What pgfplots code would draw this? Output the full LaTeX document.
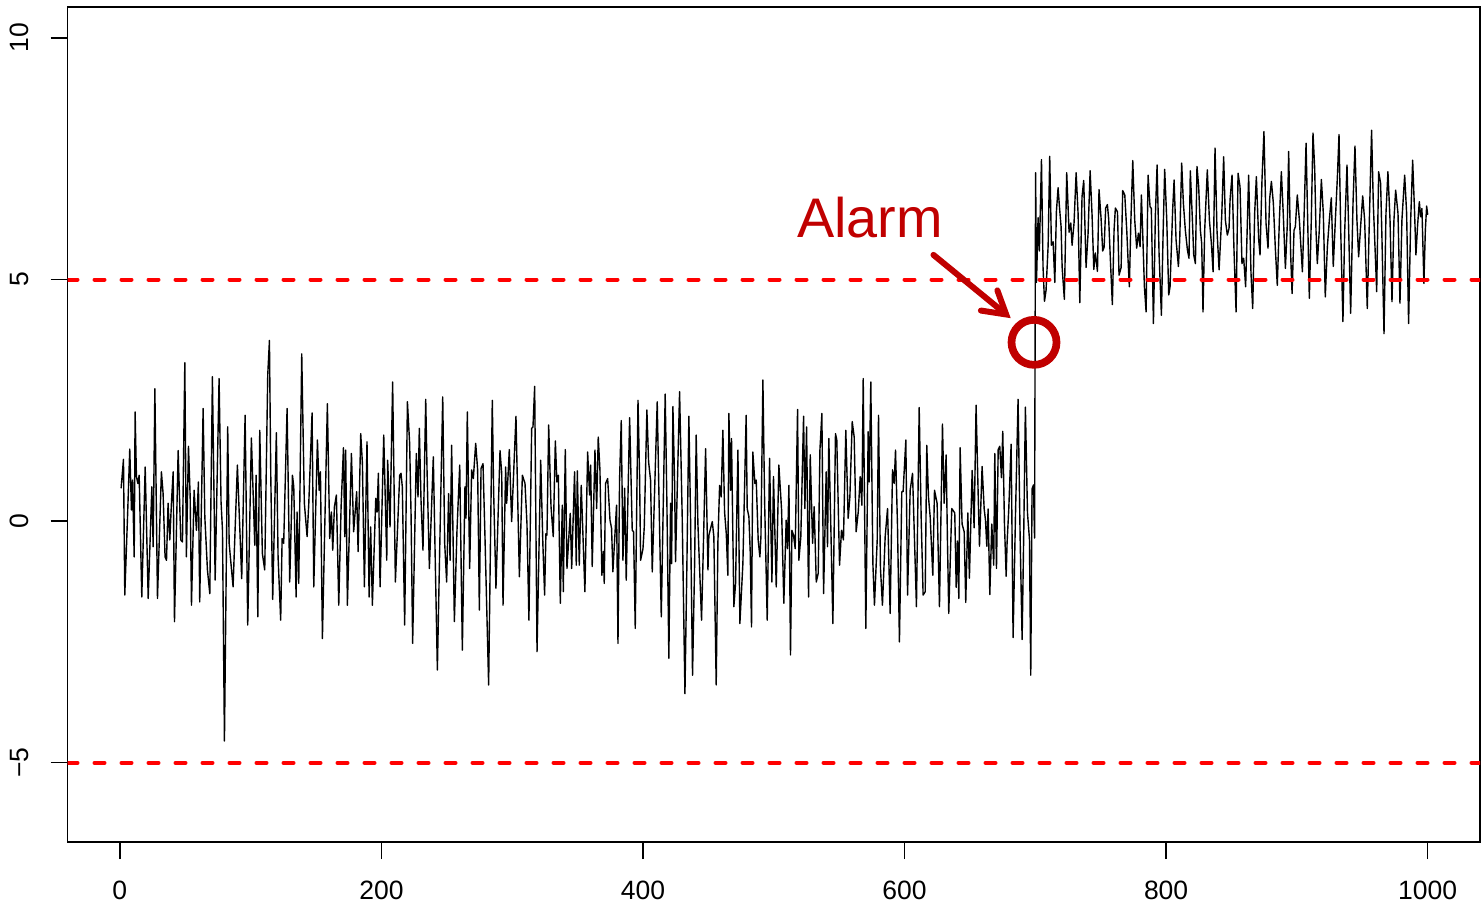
\documentclass[border=0pt]{standalone}
\usepackage{fontspec}
\setmainfont{Liberation Sans}
\usepackage{pgfplots}
\pgfplotsset{compat=1.18}
\usetikzlibrary{arrows.meta}
\definecolor{alarmred}{RGB}{192,0,0}
\begin{document}
\begin{tikzpicture}
\useasboundingbox (0,0) rectangle (741.5bp,452bp);
\begin{axis}[
  at={(33.75bp,31bp)}, anchor=south west,
  scale only axis, width=706.25bp, height=417.5bp,
  xmin=-40, xmax=1040, ymin=-6.64, ymax=10.64,
  axis line style={line width=0.7bp},
  tick align=outside, major tick length=8.5bp,
  tick style={line width=0.7bp, black},
  xtick={0,200,400,600,800,1000}, ytick={-5,0,5,10},
  yticklabels={\char"2212 5,0,5,10},
  xtick pos=bottom, ytick pos=left,
  scaled ticks=false,
  /pgf/number format/1000 sep={},
  /pgf/number format/assume math mode=true,
  ticklabel style={font=\fontsize{13.3}{16}\selectfont},
  xticklabel style={anchor=north, yshift=-7.5bp},
  yticklabel style={xshift=-7.5bp, rotate=90, anchor=south},
]
% observed series
\addplot[black, line width=0.7bp, line join=round] table {
1 0.68
2.8 1.28
3.8 -1.53
5.9 0.09
7.6 1.49
8.9 0.23
9.7 0.85
11.0 -0.74
11.7 2.26
12.7 0.92
13.8 0.78
14.8 0.95
16.8 -1.57
19.4 1.12
21.7 -1.60
24.5 0.71
25.5 -0.53
26.8 2.74
28.8 -1.60
31.8 1.02
33.1 0.57
34.6 -0.74
35.7 -0.81
36.9 0.37
38.2 -0.39
39.7 0.50
40.8 1.02
41.8 -2.08
44.6 1.46
46.6 -0.39
47.9 -0.43
49.7 3.28
50.9 -0.74
52.5 1.55
53.8 0.50
54.8 -1.74
56.8 0.64
58.6 -0.19
60.1 0.81
61.1 -1.67
63.7 2.33
65.0 0.09
67.0 -1.01
68.8 -1.50
70.8 2.99
72.9 -1.22
75.9 2.95
77.4 0.40
78.5 -0.19
80.0 -4.55
82.5 1.95
83.6 -0.46
86.6 -1.36
89.9 1.16
93.2 -1.19
95.8 2.19
97.8 -2.15
100.6 1.72
103.2 -0.50
104.2 0.95
105.5 -1.98
107.0 1.88
109.0 -0.67
110.8 -1.01
113.1 3.02
114.4 3.74
115.4 0.99
116.9 -1.62
119.7 1.83
121.0 -0.74
123.0 -2.05
124.1 -0.36
125.3 -0.46
127.9 2.33
129.9 -1.26
132.0 0.95
133.0 0.71
134.8 -1.57
135.5 0.19
136.8 -1.29
139.1 3.46
141.1 0.37
143.2 -0.32
144.5 0.37
147.0 2.24
148.3 -1.36
151.1 1.68
152.4 0.64
153.4 1.02
154.9 -2.43
158.7 2.43
160.5 -0.36
161.8 0.19
162.8 -0.60
164.1 0.30
165.6 0.54
167.4 -1.74
169.2 0.30
171.0 1.52
172.0 -0.32
172.7 1.47
174.0 -1.74
177.1 1.40
178.8 -0.22
181.1 0.61
182.2 -0.63
184.2 1.81
185.5 1.19
187.0 -1.36
189.0 1.64
190.6 -1.57
191.8 -0.12
193.1 -1.74
195.7 0.47
196.7 0.19
197.7 0.99
199.0 -1.36
201.8 1.78
204.1 -0.81
204.8 1.26
206.6 -0.12
208.6 2.88
210.7 -1.26
214.0 0.95
215.0 0.99
216.0 0.71
217.8 -2.15
219.9 2.47
221.6 1.61
222.7 0.12
223.9 -2.53
226.7 1.40
228.0 0.50
229.0 1.92
230.3 0.43
231.8 -0.60
233.9 2.52
234.9 1.06
236.7 -0.98
239.7 1.33
241.3 -0.98
242.8 -3.08
244.6 -0.57
246.9 2.57
248.4 -0.46
249.9 -1.26
251.4 0.57
252.5 -0.81
253.7 1.57
255.8 -2.08
257.8 -0.19
259.9 1.16
261.9 -2.67
263.9 0.71
264.7 0.06
265.7 2.26
267.5 -0.98
269.0 1.06
270.3 0.88
272.1 1.61
273.6 1.06
274.9 -1.84
276.2 1.09
277.7 1.19
279.2 -0.32
282.0 -3.39
284.8 2.50
285.8 0.64
287.6 -1.39
290.7 1.46
292.0 0.99
293.0 -1.74
295.0 1.12
295.8 0.37
297.8 1.48
299.6 -0.01
302.9 2.17
305.5 -1.15
307.8 0.95
309.8 0.78
311.3 -0.05
311.8 -0.70
312.8 -2.05
314.9 1.92
315.9 1.95
317.2 2.79
319.0 -2.70
321.8 1.26
323.5 -0.50
324.8 -1.53
325.8 -0.26
326.6 -0.29
327.9 1.99
329.7 0.30
331.4 -0.32
333.0 1.66
334.2 0.81
335.3 0.95
336.8 -1.70
338.3 0.33
339.1 -1.46
340.6 1.48
341.9 -0.98
344.4 0.16
345.5 -0.98
347.7 1.02
349.0 -0.91
349.8 1.04
351.3 -0.91
352.8 0.74
355.6 -1.46
357.7 1.43
359.2 0.54
360.0 1.16
361.2 -0.94
363.3 1.47
364.6 0.26
365.8 1.74
367.1 1.06
368.6 -1.12
369.7 -0.63
370.4 -1.29
371.4 0.78
373.0 0.88
374.8 0.02
376.0 -0.15
377.0 -1.05
379.8 0.33
380.9 -2.53
382.1 0.85
383.4 2.08
384.7 -0.81
386.0 0.68
387.2 -1.22
389.8 2.14
391.8 -0.19
392.8 -0.22
394.1 -2.22
396.2 2.50
397.4 0.95
398.2 -0.81
400.0 -0.57
401.0 -0.12
403.0 2.30
404.3 1.23
405.8 0.85
407.1 -1.05
410.9 2.47
412.2 0.57
414.0 -1.98
417.0 2.63
418.3 0.37
419.8 -2.84
421.1 0.37
421.9 -0.88
422.9 2.37
424.2 0.78
424.9 -0.84
426.2 0.64
428.0 2.68
430.0 0.09
432.1 -3.57
433.6 -0.88
435.1 2.17
436.4 0.02
437.9 -3.19
439.5 -0.88
440.7 1.78
442.0 -0.05
444.8 -2.05
446.3 -0.39
447.9 1.50
449.7 -1.01
450.4 -0.29
453.0 -0.01
454.2 -0.32
456.0 -3.39
457.3 -0.43
458.6 0.74
459.8 0.50
461.1 1.88
462.4 0.19
463.7 -0.26
464.9 -1.12
465.7 2.23
467.0 0.64
467.7 1.71
469.5 -1.77
470.8 -1.29
472.6 1.47
474.1 -2.12
476.4 -0.88
478.9 2.19
479.7 0.26
481.0 0.09
482.0 -0.63
483.0 -2.19
484.0 1.43
485.6 0.78
486.6 0.85
488.1 -0.39
489.4 -0.74
490.2 -0.32
491.7 2.92
493.0 0.43
495.0 -2.05
496.8 1.30
498.6 -1.26
499.8 0.92
501.9 -1.36
503.9 1.16
506.0 0.23
507.7 -1.70
509.5 0.02
510.5 -0.57
511.6 0.74
512.8 -2.77
513.9 -0.19
515.1 -0.29
516.4 -0.57
518.2 2.31
519.2 -0.81
520.7 -0.32
522.8 2.17
523.8 0.26
525.1 1.95
526.6 -1.57
527.9 1.37
529.7 -0.46
530.9 0.30
532.5 -1.26
534.0 -1.08
535.3 1.47
536.8 2.23
538.1 -1.50
540.1 1.02
541.1 -0.53
542.1 1.71
543.7 -0.19
545.2 -2.12
547.2 1.81
548.2 1.68
550.3 -0.91
551.8 -0.19
553.3 -0.39
555.1 1.88
556.9 0.06
558.2 0.50
560.0 2.06
561.5 1.74
563.0 -0.22
564.6 0.19
566.1 0.92
567.4 0.33
568.4 2.95
570.4 -2.22
572.2 1.85
573.0 0.81
574.2 2.88
575.8 -0.88
577.0 -1.74
579.1 -0.39
580.1 2.19
581.6 -0.98
583.1 -1.74
585.2 -0.32
587.0 0.26
589.0 -1.91
590.8 1.06
592.1 0.78
593.1 1.47
594.6 -0.08
596.1 -2.50
597.9 0.61
598.9 0.61
601.0 1.68
602.3 -1.53
604.3 0.64
606.1 0.99
607.4 -0.19
609.1 -1.77
611.2 2.35
612.7 0.09
614.2 -1.53
615.8 -1.46
617.0 1.57
618.3 0.50
619.6 0.09
621.6 -1.12
622.9 0.64
624.9 0.37
626.7 -1.77
629.0 2.01
630.3 0.37
631.8 1.37
632.8 -0.39
633.8 -1.91
636.1 0.26
638.4 0.17
639.5 -1.37
640.5 -0.41
641.5 -1.60
642.5 1.52
644.0 -0.06
645.6 -0.22
646.8 -1.68
648.4 0.17
649.6 -1.18
651.7 1.05
653.2 -0.14
654.7 2.40
656.3 0.55
657.3 -0.52
659.3 1.13
660.9 0.25
661.9 0.02
662.9 -0.52
663.9 0.25
665.2 -1.52
666.7 -0.06
668.2 -0.91
669.0 1.40
670.3 -0.98
671.6 1.48
672.8 1.55
674.1 0.90
675.1 1.86
676.4 -0.06
677.7 -1.14
678.4 -0.45
679.7 0.25
681.5 1.59
683.0 -2.41
684.8 0.09
686.8 2.52
688.4 -0.37
689.9 -2.45
691.2 -0.14
692.4 2.36
694.0 0.17
695.5 -0.37
696.5 -3.19
697.5 0.67
698.6 0.75
699.4 -0.35
700.2 7.21
700.9 4.94
702.1 6.28
703.1 5.59
704.7 7.48
705.9 5.25
707.0 4.55
708.2 4.78
709.8 5.71
711.0 7.55
712.3 5.71
713.6 5.78
714.9 4.94
716.1 6.40
717.4 6.90
718.4 6.52
719.7 6.09
720.5 5.25
722.2 4.59
724.0 7.21
725.8 5.98
727.1 6.17
728.1 5.71
729.6 6.17
731.2 7.21
732.7 6.36
734.0 4.52
735.7 6.71
737.0 7.05
738.8 5.25
740.3 5.94
741.9 7.25
743.4 6.32
744.7 5.21
745.9 5.55
747.5 5.17
748.7 6.86
750.3 6.25
751.5 5.59
752.6 5.67
753.8 6.48
755.1 6.55
756.1 6.25
757.4 5.40
758.9 4.48
760.2 6.02
761.2 6.48
762.8 6.40
764.0 5.09
765.6 5.25
766.8 6.84
768.4 6.75
769.9 6.02
770.9 5.40
771.9 4.85
773.0 6.16
774.5 7.46
776.0 6.23
777.5 5.65
778.8 5.96
780.1 5.68
781.1 6.75
782.1 5.96
783.4 4.85
784.7 4.33
786.2 7.16
787.7 6.51
788.7 6.47
790.3 4.09
791.8 6.34
793.1 7.37
794.6 5.54
796.4 4.26
797.7 5.96
798.9 7.28
800.5 6.23
802.0 4.68
803.0 4.85
805.0 6.44
806.1 7.06
807.6 5.82
809.4 5.27
810.4 5.82
811.9 7.41
813.2 6.58
814.7 6.02
816.3 5.61
817.5 5.44
818.5 7.25
820.1 6.23
821.1 5.51
822.4 5.33
823.6 7.34
824.9 6.92
826.2 6.02
827.2 5.75
828.2 4.33
829.5 6.02
831.5 7.27
833.1 6.23
834.6 5.75
835.9 5.16
837.4 7.72
838.9 6.02
840.5 5.20
842.5 6.30
844.0 7.54
845.3 6.23
846.8 5.92
848.1 6.06
848.9 6.65
850.4 7.16
851.9 5.61
853.5 4.33
855.0 7.20
856.5 6.92
858.0 5.33
859.3 5.44
860.8 4.85
863.1 7.16
864.9 5.13
866.2 4.40
867.7 6.37
869.0 7.13
870.8 5.82
871.8 5.51
873.3 7.06
874.8 8.06
876.4 6.16
877.9 5.65
879.2 6.68
880.5 7.03
882.0 6.58
883.5 5.65
885.0 4.88
886.6 6.23
888.1 7.23
889.6 6.34
891.2 5.23
892.7 6.16
893.7 7.65
895.2 5.54
896.3 4.71
897.8 6.02
898.8 6.09
900.3 6.75
901.9 6.23
902.9 5.75
904.2 5.16
905.4 6.23
907.0 7.82
908.5 5.89
909.5 4.61
911.0 6.23
912.3 8.03
913.6 7.30
914.6 6.02
915.6 5.33
917.1 6.02
918.7 7.07
920.2 6.37
921.7 4.64
923.3 5.68
924.8 6.23
926.3 6.69
927.8 5.27
929.4 6.23
930.9 7.09
932.2 8.00
933.5 6.02
935.2 4.13
936.5 5.96
938.3 7.37
939.6 6.02
941.1 4.30
942.9 6.58
944.4 7.76
945.9 6.23
947.2 5.47
948.7 6.09
950.3 6.73
951.8 6.23
953.8 4.40
955.4 6.23
957.1 8.09
958.4 6.58
959.9 5.54
961.0 4.75
962.5 7.23
964.0 6.99
965.0 5.89
966.6 3.88
968.1 6.37
969.6 7.23
971.2 6.23
972.7 4.54
974.2 6.23
975.5 6.85
977.3 6.37
978.8 4.51
980.3 6.23
982.4 7.16
983.9 6.37
985.4 4.09
987.0 6.23
988.5 7.47
990.0 6.37
991.0 5.51
992.3 6.13
993.6 6.61
994.6 6.30
995.6 6.47
997.1 4.92
998.2 6.02
999.2 6.52
1000 6.34
};
% control limits
\addplot[red, line width=2bp, line cap=round, dash pattern=on 5bp off 8.5bp] coordinates {(-40,5) (1040,5)};
\addplot[red, line width=2bp, line cap=round, dash pattern=on 5bp off 8.5bp] coordinates {(-40,-5) (1040,-5)};
% alarm point
\addplot[alarmred, only marks, mark=o, mark size=11.25bp, mark options={line width=3.85bp}] coordinates {(699,3.7)};
\draw[alarmred, line width=3bp, line cap=round, -{Straight Barb[length=11bp, width=13bp, line cap=round]}]
  (axis cs:622.1,5.51) -- (axis cs:681.2,4.20);
\node[alarmred, anchor=base, font=\fontsize{28}{32}\selectfont, inner sep=0pt] at (axis cs:573.7,5.88) {Alarm};
\end{axis}
\end{tikzpicture}
\end{document}
